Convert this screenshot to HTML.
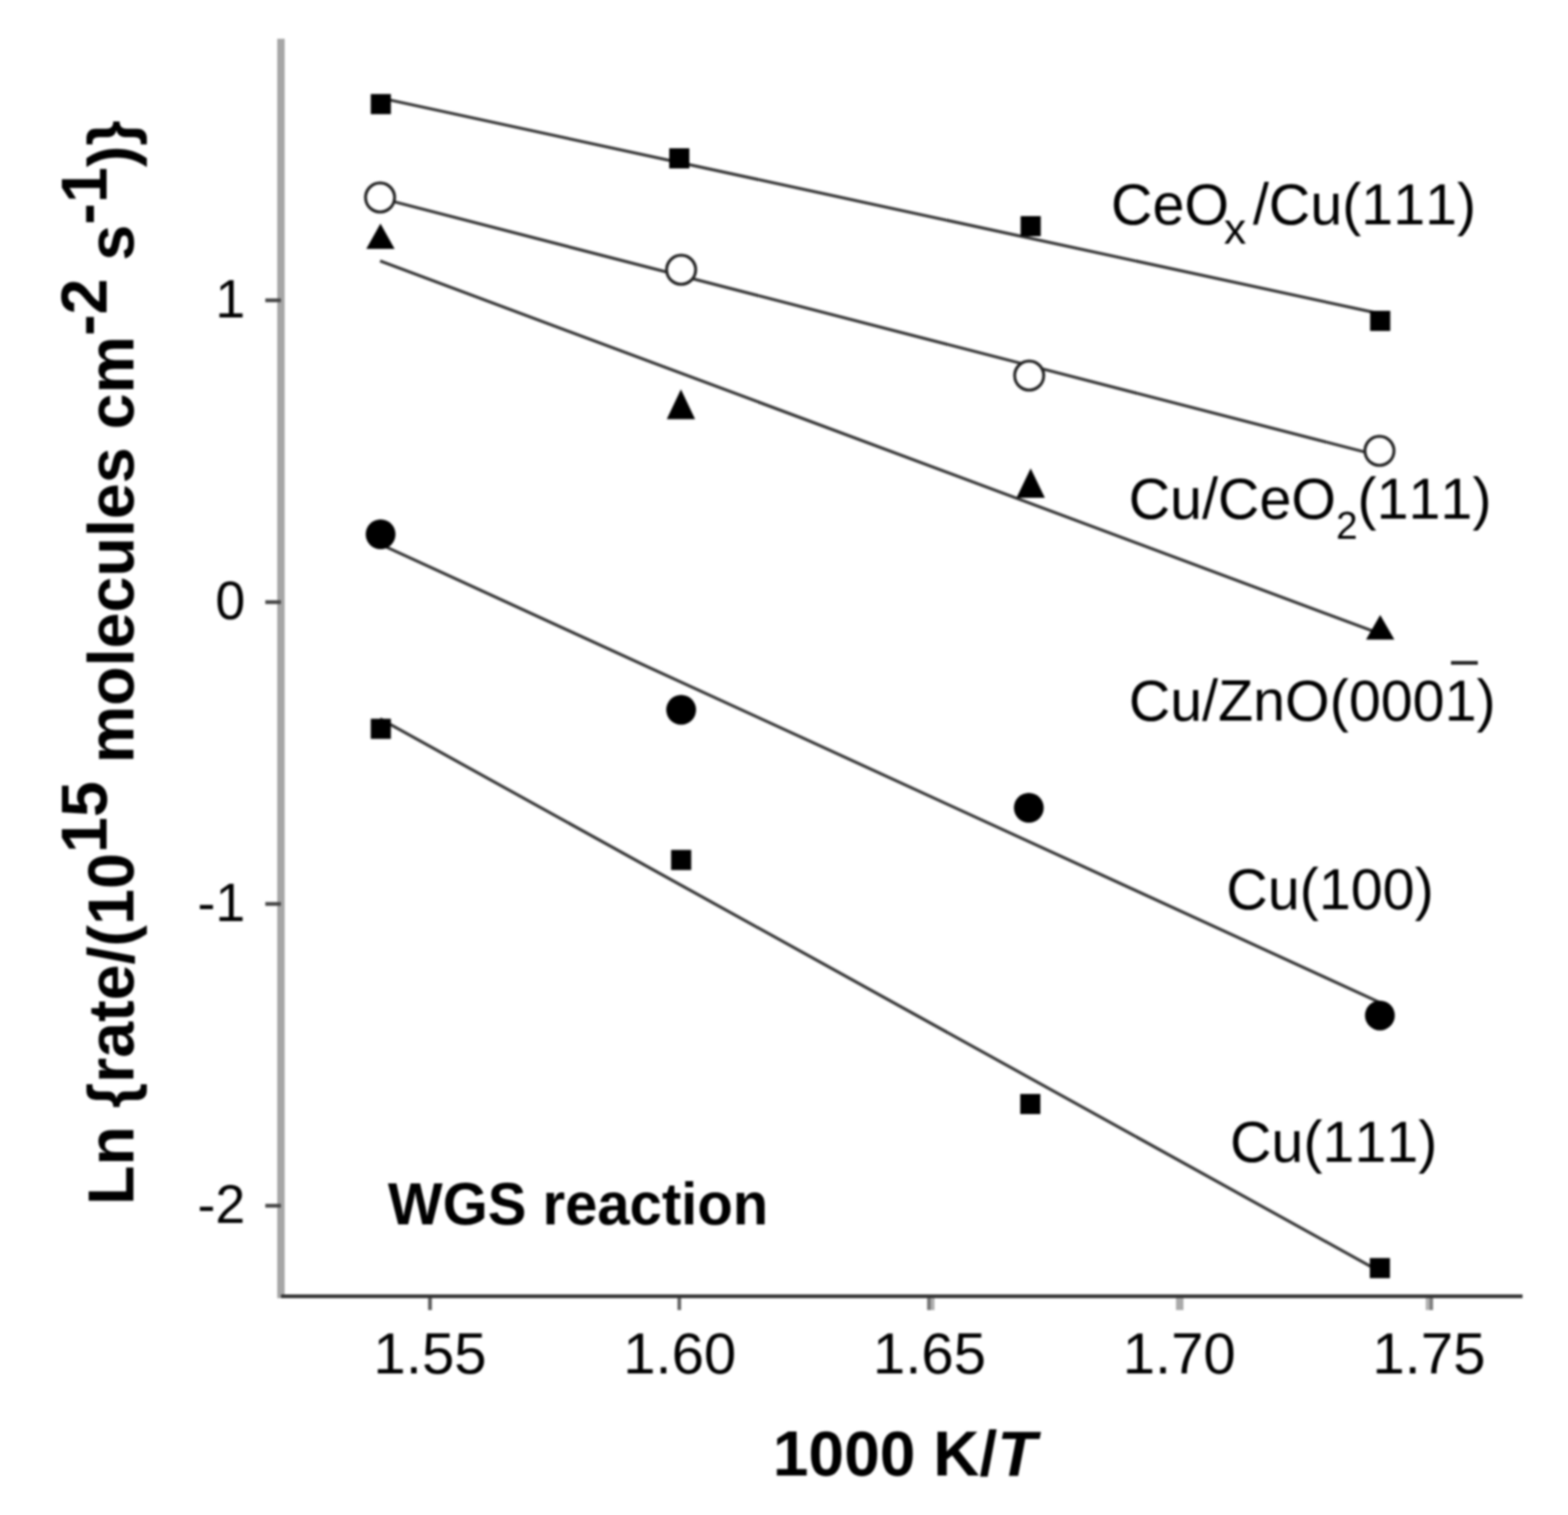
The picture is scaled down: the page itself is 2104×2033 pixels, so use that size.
<!DOCTYPE html>
<html><head><meta charset="utf-8"><title>WGS reaction Arrhenius plot</title><style>
html,body{margin:0;padding:0;background:#fff;}
svg{display:block;filter:blur(1.5px);font-family:'Liberation Sans',Arial,sans-serif;font-kerning:none;}
text{font-kerning:none;fill:#000;}
</style></head><body><svg width="2104" height="2033" viewBox="0 0 2104 2033">
<rect x="372" y="52" width="10" height="1690" fill="#a6a6a6"/>
<rect x="377" y="1737" width="1666" height="5" fill="#333"/>
<rect x="356" y="400.5" width="21" height="5" fill="#444"/>
<rect x="356" y="805.5" width="21" height="5" fill="#444"/>
<rect x="356" y="1210.5" width="21" height="5" fill="#444"/>
<rect x="356" y="1615.5" width="21" height="5" fill="#444"/>
<rect x="574.5" y="1742" width="5" height="16" fill="#5a5a5a"/>
<rect x="909" y="1742" width="5" height="16" fill="#666"/>
<rect x="1244" y="1742" width="5" height="16" fill="#777"/>
<rect x="1249" y="1742" width="5" height="16" fill="#b0b0b0"/>
<rect x="1578" y="1742" width="10" height="16" fill="#aaa"/>
<rect x="1913" y="1742" width="5" height="16" fill="#b4b4b4"/>
<rect x="1918" y="1742" width="5" height="16" fill="#808080"/>
<text x="329" y="425.5" font-size="72" text-anchor="end">1</text>
<text x="329" y="830.5" font-size="72" text-anchor="end">0</text>
<text x="329" y="1235.5" font-size="72" text-anchor="end">-1</text>
<text x="329" y="1640.5" font-size="72" text-anchor="end">-2</text>
<text x="577.0" y="1843" font-size="78" text-anchor="middle">1.55</text>
<text x="912.1" y="1843" font-size="78" text-anchor="middle">1.60</text>
<text x="1247.2" y="1843" font-size="78" text-anchor="middle">1.65</text>
<text x="1582.3" y="1843" font-size="78" text-anchor="middle">1.70</text>
<text x="1917.4" y="1843" font-size="78" text-anchor="middle">1.75</text>
<line x1="510" y1="131.4" x2="1851" y2="420.8" stroke="#333" stroke-width="4"/>
<line x1="510" y1="265.9" x2="1851" y2="611.6" stroke="#333" stroke-width="4"/>
<line x1="510" y1="350.2" x2="1851" y2="850.2" stroke="#333" stroke-width="4"/>
<line x1="510" y1="730.2" x2="1851" y2="1345" stroke="#333" stroke-width="4"/>
<line x1="510" y1="964.6" x2="1851" y2="1705.9" stroke="#333" stroke-width="4"/>
<rect x="497.5" y="126.2" width="27" height="27" fill="#000"/>
<rect x="898.0" y="199.0" width="27" height="27" fill="#000"/>
<rect x="1369.5" y="290.0" width="27" height="27" fill="#000"/>
<rect x="1838.5" y="417.1" width="27" height="27" fill="#000"/>
<rect x="497.5" y="964.5" width="27" height="27" fill="#000"/>
<rect x="900.5" y="1140.5" width="27" height="27" fill="#000"/>
<rect x="1369.0" y="1468.0" width="27" height="27" fill="#000"/>
<rect x="1838.1" y="1688.2" width="27" height="27" fill="#000"/>
<circle cx="510" cy="265" r="19.5" fill="#fff" stroke="#222" stroke-width="4"/>
<circle cx="914" cy="362" r="19.5" fill="#fff" stroke="#222" stroke-width="4"/>
<circle cx="1381" cy="504" r="19.5" fill="#fff" stroke="#222" stroke-width="4"/>
<circle cx="1851" cy="605" r="19.5" fill="#fff" stroke="#222" stroke-width="4"/>
<circle cx="510.7" cy="717" r="20" fill="#000"/>
<circle cx="914" cy="952.5" r="20" fill="#000"/>
<circle cx="1380.5" cy="1084" r="20" fill="#000"/>
<circle cx="1851.6" cy="1362.7" r="20" fill="#000"/>
<polygon points="510.5,300 491.5,334 529.5,334" fill="#000"/>
<polygon points="913.7,522.5 894.7,562.5 932.7,562.5" fill="#000"/>
<polygon points="1383,628.6 1364,668 1402,668" fill="#000"/>
<polygon points="1852,825.3 1833,858.2 1871,858.2" fill="#000"/>
<text x="1490.8" y="300.5" font-size="77">CeO<tspan font-size="60" dx="-7" dy="26">x</tspan><tspan dx="9" dy="-26">/Cu(111)</tspan></text>
<text x="1514.5" y="695.5" font-size="77">Cu/CeO<tspan font-size="52" dy="27">2</tspan><tspan dy="-27">(111)</tspan></text>
<text x="1514.7" y="967" font-size="77">Cu/ZnO(0001)</text>
<rect x="1947" y="887" width="36" height="5" fill="#222"/>
<text x="1645.6" y="1220" font-size="77">Cu(100)</text>
<text x="1650.5" y="1559" font-size="77">Cu(111)</text>
<text transform="translate(520.5,1643) scale(0.973,1)" font-size="80" font-weight="bold">WGS reaction</text>
<text x="1037" y="1980" font-size="86" font-weight="bold">1000 K/<tspan font-style="italic">T</tspan></text>
<text transform="translate(179,1617) rotate(-90) scale(0.9966,1)" font-size="87" font-weight="bold">Ln {rate/(10<tspan dy="-36">15</tspan><tspan dy="36"> molecules cm</tspan><tspan dy="-36">-2</tspan><tspan dy="36"> s</tspan><tspan dy="-36">-1</tspan><tspan dy="36">)}</tspan></text>
</svg></body></html>
